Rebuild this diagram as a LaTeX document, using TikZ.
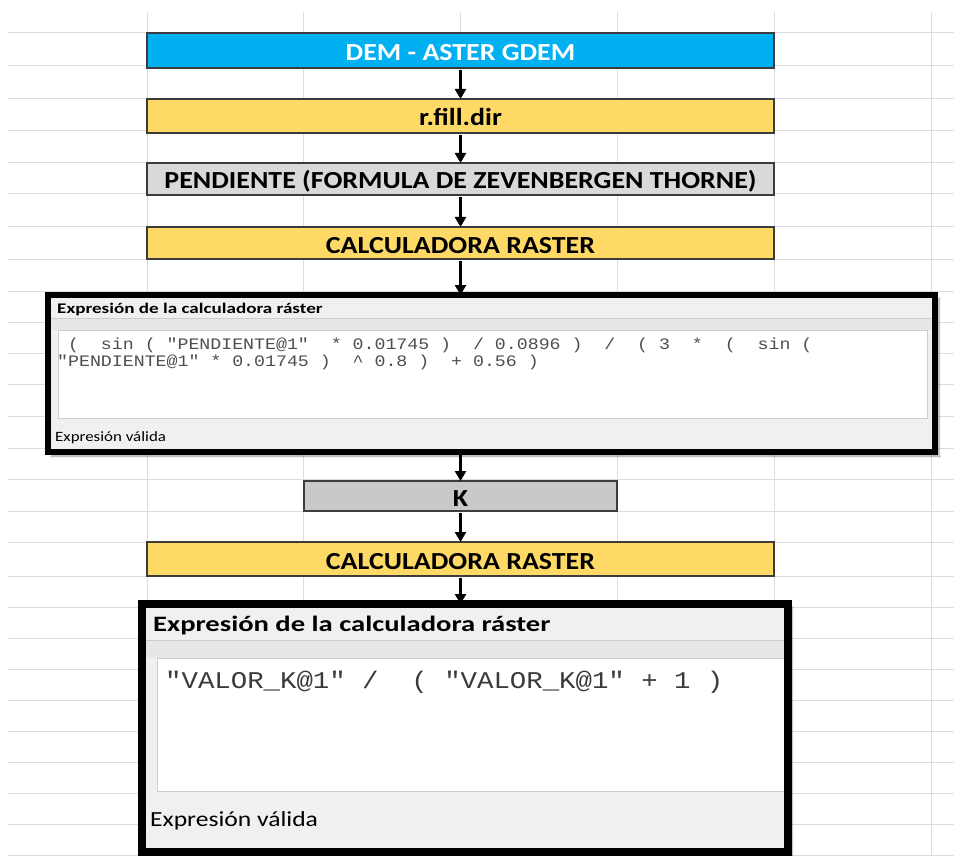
\documentclass[tikz,border=0pt]{standalone}
\usepackage{fontspec}
\usepackage{graphicx}
\setmainfont{Carlito}
\newfontfamily\monofont{Liberation Mono}
\usetikzlibrary{arrows.meta,shadows.blur}

\definecolor{excelblue}{HTML}{00B0F0}
\definecolor{excelgold}{HTML}{FFD966}
\definecolor{lightgrey}{HTML}{D9D9D9}
\definecolor{midgrey}{HTML}{C9C9C9}
\definecolor{gridgrey}{HTML}{DDDDDD}
\definecolor{framegrey}{HTML}{3C3C3C}
\definecolor{panelbg}{HTML}{F0F0F0}
\definecolor{stripbg}{HTML}{E7E7E7}
\definecolor{fieldline}{HTML}{CDCDCD}
\definecolor{codegrey}{HTML}{3A3A3A}
\definecolor{codelight}{HTML}{4E4E4E}

% sheet text is rendered slightly wide
\newcommand\wide[1]{\scalebox{1.14}[1]{#1}}
% dialog text is wider still
\newcommand\uiwide[1]{\scalebox{1.30}[1]{#1}}
\newcommand\uistatus[1]{\scalebox{1.19}[1]{#1}}

\begin{document}
\begin{tikzpicture}[x=1pt,y=-1pt,
  gridline/.style={gridgrey,line width=1pt},
  stepbox/.style={draw=framegrey,line width=1.5pt,minimum width=627pt,
    inner sep=0pt,outer sep=0pt,text height=20pt,text depth=0pt,
    font=\fontsize{24.5}{26}\selectfont\bfseries},
  arr/.style={line width=2.4pt,-{Triangle[length=10pt,width=11pt]},shorten <=2pt},
  panel/.style={fill=panelbg,inner sep=0pt,outer sep=0pt,
    blur shadow={shadow xshift=4pt,shadow yshift=-4pt,shadow blur steps=6}},
  uitext/.style={anchor=base west,inner sep=0pt},
  codesmall/.style={anchor=base west,inner sep=0pt,text=codelight,font=\monofont\fontsize{16}{18}\selectfont},
  codelarge/.style={anchor=base west,inner sep=0pt,text=codegrey,font=\monofont\fontsize{24}{26}\selectfont},
  field/.style={draw=fieldline,fill=white,line width=1pt}
]
% page
\fill[white] (0,0) rectangle (954,856);
\useasboundingbox (0,0) rectangle (954,856);

% spreadsheet cells
\foreach \gy in {33,66,99,131,163,194,227,259,291,322,353,384,416,448,479,511,542,576,607,638,669,700,731,762,793,824,855}
  \draw[gridline] (8,\gy) -- (954,\gy);
\foreach \gx in {147,303,460,617,774,931}
  \draw[gridline] (\gx,12) -- (\gx,856);

% process steps
\node[stepbox,fill=excelblue,text=white,minimum height=35pt] (dem) at (460.5,50.5) {\wide{DEM - ASTER GDEM}};
\node[stepbox,fill=excelgold,minimum height=34pt] (fill) at (460.5,116) {\wide{r.fill.dir}};
\node[stepbox,fill=lightgrey,minimum height=32pt] (slope) at (460.5,179) {\wide{PENDIENTE (FORMULA DE ZEVENBERGEN THORNE)}};
\node[stepbox,fill=excelgold,minimum height=32pt] (calcA) at (460.5,243) {\wide{CALCULADORA RASTER}};
\node[stepbox,fill=midgrey,minimum width=313pt,minimum height=30pt] (k) at (460.5,496) {\wide{K}};
\node[stepbox,fill=excelgold,minimum height=34pt] (calcB) at (460.5,559) {\wide{CALCULADORA RASTER}};

% first raster calculator dialog
\node[panel,minimum width=887pt,minimum height=157pt] (exprA) at (491.5,373.5) {};
\node[uitext,font=\fontsize{14.7}{16}\selectfont\bfseries] (titleA) at (57,313) {\uiwide{Expresión de la calculadora ráster}};
\fill[stripbg] (51,318) rectangle (932,330);
\draw[fieldline,line width=0.8pt] (51,318) -- (932,318);
\draw[field] (58,330) rectangle (927,418);
\node[codesmall] (codeA1) at (57,349.5) {\wide{~(~~sin~(~"PENDIENTE@1"~~*~0.01745~)~~/~0.0896~)~~/~~(~3~~*~~(~~sin~(}};
\node[codesmall] (codeA2) at (57,366.5) {\wide{"PENDIENTE@1"~*~0.01745~)~~\textasciicircum~0.8~)~~+~0.56~)}};
\node[uitext,font=\fontsize{14.2}{16}\selectfont] (statusA) at (55,441) {\uistatus{Expresión válida}};
\draw[line width=6pt] (exprA.north west) rectangle (exprA.south east);

% second raster calculator dialog
\node[panel,minimum width=646pt,minimum height=248pt] (exprB) at (465,728) {};
\node[uitext,font=\fontsize{22}{24}\selectfont\bfseries] (titleB) at (153,631) {\uiwide{Expresión de la calculadora ráster}};
\fill[stripbg] (146,640) rectangle (784,658);
\draw[fieldline,line width=0.8pt] (146,640) -- (784,640);
\draw[field] (157,658) rectangle (790,791);
\node[codelarge] (codeB) at (165,688) {\wide{"VALOR\_K@1"~/~~(~"VALOR\_K@1"~+~1~)}};
\node[uitext,font=\fontsize{21.5}{23}\selectfont] (statusB) at (150,826) {\uistatus{Expresión válida}};
\draw[line width=8pt] (exprB.north west) rectangle (exprB.south east);

% flow
\draw[arr] (dem) -- (fill);
\draw[arr] (fill) -- (slope);
\draw[arr] (slope) -- (calcA);
\draw[arr] (calcA) -- (calcA |- exprA.north);
\draw[arr] (k |- exprA.south) -- (k);
\draw[arr] (k) -- (calcB);
\draw[arr] (calcB) -- (calcB |- exprB.north);
\end{tikzpicture}
\end{document}
